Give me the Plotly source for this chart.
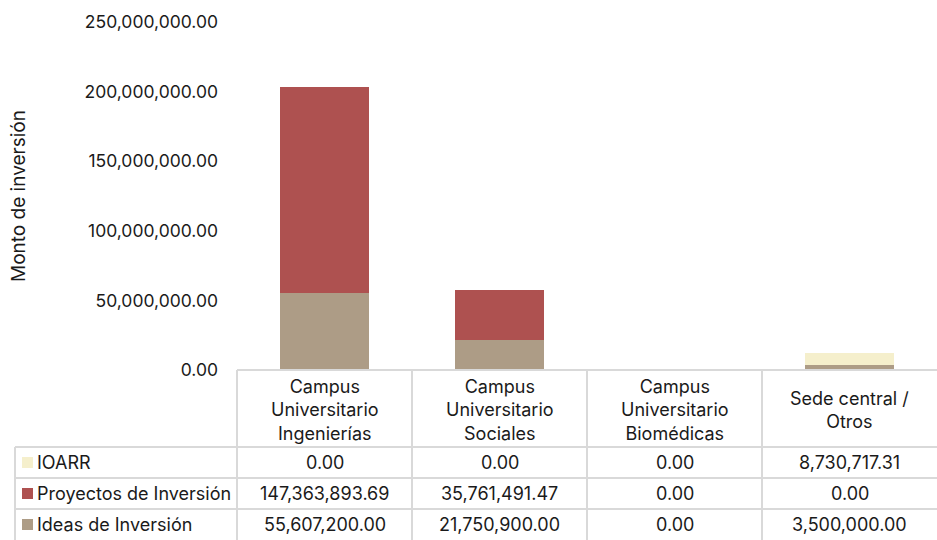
import plotly.graph_objects as go

W, H = 937, 540

categories = [
    "Campus<br>Universitario<br>Ingenierías",
    "Campus<br>Universitario<br>Sociales",
    "Campus<br>Universitario<br>Biomédicas",
    "Sede central /<br>Otros",
]
series_names = ["Ideas de Inversión", "Proyectos de Inversión", "IOARR"]
ideas = [55607200.00, 21750900.00, 0.00, 3500000.00]
proyectos = [147363893.69, 35761491.47, 0.00, 0.00]
ioarr = [0.00, 0.00, 0.00, 8730717.31]
series_values = [ideas, proyectos, ioarr]
colors = ["#ad9c86", "#ae5150", "#f5efcc"]
y_ticks = [0, 50000000, 100000000, 150000000, 200000000, 250000000]

FONT = "Inter, Lato, sans-serif"
TXT = "#1a1a1a"
GRID = "#d9d9d9"

# pixel helpers -> paper coords
def px(x):
    return x / W

def py(y):
    return 1 - y / H

plot_left, plot_right = 237, 937
plot_top, plot_bottom = 22, 370

fig = go.Figure()
xs = list(range(len(categories)))
for name, vals, col in zip(series_names, series_values, colors):
    fig.add_trace(go.Bar(
        x=xs, y=vals, name=name, marker=dict(color=col, line=dict(width=0)),
        width=0.51, showlegend=False, hoverinfo="y+name",
    ))

fig.update_layout(
    width=W, height=H, barmode="stack",
    margin=dict(l=0, r=0, t=0, b=0, pad=0),
    paper_bgcolor="white", plot_bgcolor="white",
    font=dict(family=FONT, size=18, color=TXT),
    xaxis=dict(domain=[px(plot_left), px(plot_right)], range=[-0.5, 3.5],
               showticklabels=False, showgrid=False, zeroline=False,
               showline=False, fixedrange=True, automargin=False),
    yaxis=dict(domain=[py(plot_bottom), py(plot_top)], range=[0, 250000000],
               tickvals=y_ticks,
               ticktext=[f"{v:,.2f}" for v in y_ticks],
               showgrid=False, zeroline=False, showline=False,
               ticks="", ticklabelstandoff=18, automargin=False,
               tickfont=dict(size=17.5, family=FONT, color=TXT),
               fixedrange=True),
)

shapes = []
ann = []

def hline(y, x0, x1):
    shapes.append(dict(type="line", xref="paper", yref="paper",
                       x0=px(x0), x1=px(x1), y0=py(y), y1=py(y),
                       line=dict(color=GRID, width=2)))

def vline(x, y0, y1):
    shapes.append(dict(type="line", xref="paper", yref="paper",
                       x0=px(x), x1=px(x), y0=py(y0), y1=py(y1),
                       line=dict(color=GRID, width=2)))

col_edges = [237, 412, 587, 762, 937]
header_top, header_bot = 370, 447
row_edges = [447, 478, 509, 540]

# data table grid
hline(header_top, 237, 937)
for y in row_edges[:-1]:
    hline(y, 15, 937)
for x in col_edges[:-1]:
    vline(x, header_top, 540)
vline(15, header_bot, 540)

# header labels
for i, cat in enumerate(categories):
    cx = (col_edges[i] + col_edges[i + 1]) / 2
    ann.append(dict(x=px(cx), y=py((header_top + header_bot) / 2 + 1),
                    xref="paper", yref="paper", text=cat, showarrow=False,
                    align="center", xanchor="center", yanchor="middle",
                    font=dict(size=18, family=FONT, color=TXT)))

# table rows: top series first
rows = list(zip(series_names, series_values, colors))[::-1]
for r, (name, vals, col) in enumerate(rows):
    y0, y1 = row_edges[r], row_edges[r + 1]
    cy = (y0 + y1) / 2
    shapes.append(dict(type="rect", xref="paper", yref="paper",
                       x0=px(22), x1=px(33), y0=py(cy + 5.5), y1=py(cy - 5.5),
                       fillcolor=col, line=dict(width=0)))
    ann.append(dict(x=px(35), y=py(cy), xref="paper", yref="paper",
                    text=name, showarrow=False, xanchor="left", yanchor="middle",
                    font=dict(size=18, family=FONT, color=TXT)))
    for i, v in enumerate(vals):
        cx = (col_edges[i] + col_edges[i + 1]) / 2
        ann.append(dict(x=px(cx), y=py(cy), xref="paper", yref="paper",
                        text=f"{v:,.2f}", showarrow=False, xanchor="center",
                        yanchor="middle",
                        font=dict(size=18, family=FONT, color=TXT)))

# y-axis title
ann.append(dict(x=px(19), y=py((plot_top + plot_bottom) / 2), xref="paper",
                yref="paper", text="Monto de inversión", textangle=-90,
                showarrow=False, xanchor="center", yanchor="middle",
                font=dict(size=19, family=FONT, color=TXT)))

fig.update_layout(shapes=shapes, annotations=ann)
fig.write_html("out.html")
